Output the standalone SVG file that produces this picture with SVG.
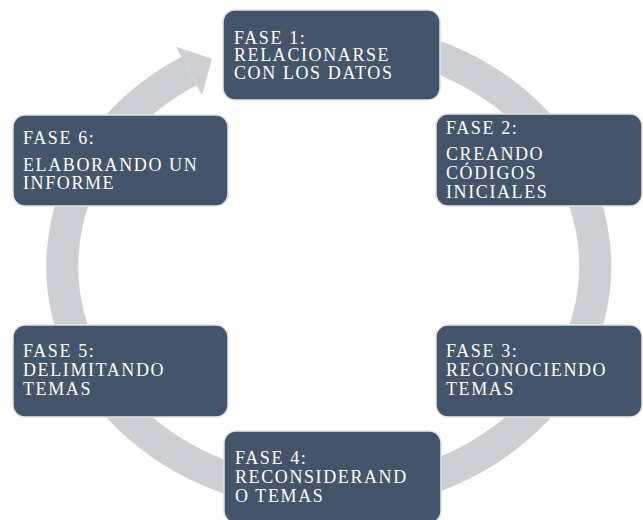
<svg xmlns="http://www.w3.org/2000/svg" width="643" height="520" viewBox="0 0 643 520">
  <style>
    .box { fill: #44546a; stroke: #e3e4e6; stroke-width: 1.5; }
    .t { font-family: "Liberation Serif", "Times New Roman", serif; font-size: 18px; fill: #ffffff; letter-spacing: 1.6px; }
    .ring { fill: none; stroke: #cdcfd4; stroke-width: 32; }
    .head { fill: #cdcfd4; }
  </style>
  <rect width="643" height="520" fill="#ffffff"/>
  <g id="connectors">
    <path class="ring" d="M 330.5 37 A 266.5 229 0 1 1 189 71"/>
    <polygon class="head" points="176,46.8 212,58.7 202,95.2"/>
  </g>
  <g id="fase1">
    <rect class="box" x="223" y="10" width="217" height="90" rx="12"/>
    <text class="t" x="234" y="43.5">FASE 1:</text>
    <text class="t" x="234" y="61">RELACIONARSE</text>
    <text class="t" x="234" y="79">CON LOS DATOS</text>
  </g>
  <g id="fase2">
    <rect class="box" x="436" y="114" width="206" height="92" rx="12"/>
    <text class="t" x="446" y="133.5">FASE 2:</text>
    <text class="t" x="446" y="160">CREANDO</text>
    <text class="t" x="446" y="179">CÓDIGOS</text>
    <text class="t" x="446" y="197.5">INICIALES</text>
  </g>
  <g id="fase3">
    <rect class="box" x="436" y="325" width="206" height="92" rx="12"/>
    <text class="t" x="446" y="356.5">FASE 3:</text>
    <text class="t" x="446" y="376">RECONOCIENDO</text>
    <text class="t" x="446" y="395">TEMAS</text>
  </g>
  <g id="fase4">
    <rect class="box" x="224" y="431" width="217" height="92" rx="12"/>
    <text class="t" x="235" y="464">FASE 4:</text>
    <text class="t" x="235" y="483.3">RECONSIDERAND</text>
    <text class="t" x="235" y="501.7">O TEMAS</text>
  </g>
  <g id="fase5">
    <rect class="box" x="13" y="325" width="215" height="92" rx="12"/>
    <text class="t" x="23" y="356.5">FASE 5:</text>
    <text class="t" x="23" y="376">DELIMITANDO</text>
    <text class="t" x="23" y="395">TEMAS</text>
  </g>
  <g id="fase6">
    <rect class="box" x="13" y="115" width="215" height="91" rx="12"/>
    <text class="t" x="23" y="143.5">FASE 6:</text>
    <text class="t" x="23" y="170.5">ELABORANDO UN</text>
    <text class="t" x="23" y="189.3">INFORME</text>
  </g>
</svg>
